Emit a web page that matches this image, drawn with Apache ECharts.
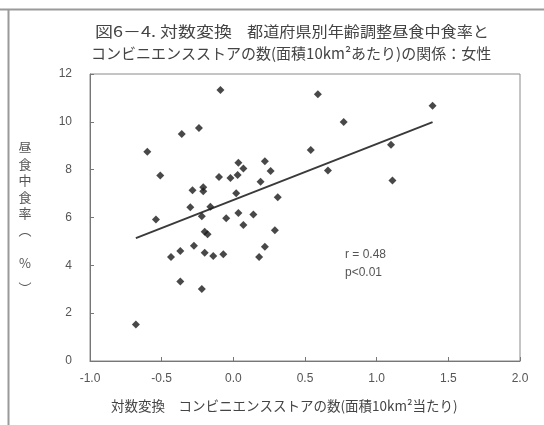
<!DOCTYPE html>
<html>
<head>
<meta charset="utf-8">
<script src="https://cdn.jsdelivr.net/npm/echarts@6/dist/echarts.min.js"></script>
<style>
  html, body { margin: 0; padding: 0; background: #fff; }
  #chart { width: 544px; height: 425px; }
</style>
</head>
<body>
<div id="chart"></div>
<script>
// Log-transformed convenience-store density (per 10 km²) per prefecture
const storeLog = [
  -0.09, -0.24, -0.36, -0.60, -0.51, -0.285, -0.21, -0.21, -0.10, -0.02,
  0.03, 0.035, 0.07, 0.22, 0.26, 0.19, 0.02, 0.31, -0.30, -0.16,
  -0.22, 0.035, 0.14, -0.05, -0.54, 0.59, 1.39, 0.77, 0.54, 1.10,
  0.66, 1.11, 0.07, 0.29, -0.20, -0.18, -0.275, -0.37, -0.435, -0.20,
  -0.14, -0.07, 0.22, 0.18, -0.37, -0.22, -0.68
];
// Age-adjusted rate of store-bought lunches, women (%)
const lunchRate = [
  11.33, 9.74, 9.49, 8.75, 7.76, 7.14, 7.26, 7.10, 7.69, 7.65,
  7.78, 8.29, 8.05, 8.35, 7.94, 7.49, 7.01, 6.85, 6.43, 6.45,
  6.05, 6.19, 6.13, 5.97, 5.92, 11.15, 10.67, 9.99, 8.82, 9.04,
  7.97, 7.55, 5.69, 5.47, 5.40, 5.30, 4.82, 4.60, 4.35, 4.53,
  4.39, 4.46, 4.78, 4.35, 3.32, 3.01, 1.53
];
// Regression line end points
const fitX = [-0.68, 1.39];
const fitY = [5.14, 9.99];
// Axis ticks
const xTicks = [-1.0, -0.5, 0.0, 0.5, 1.0, 1.5, 2.0];
const yTicks = [0, 2, 4, 6, 8, 10, 12];

const JP = '"Noto Sans CJK JP", "Noto Sans CJK SC", sans-serif';
const NUM = '"Liberation Sans", Arial, sans-serif';

const titleStyle = { fontFamily: JP, fontSize: 15, fill: '#444' };
const yNameStyle = { fontFamily: JP, fontSize: 13, fill: '#555', align: 'center' };

const chart = echarts.init(document.getElementById('chart'), null, { renderer: 'canvas' });

chart.setOption({
  animation: false,
  backgroundColor: '#ffffff',
  grid: { left: 90, right: 24, top: 74, bottom: 64, show: true, borderColor: '#8a8a8a', borderWidth: 1 },
  xAxis: {
    type: 'value',
    min: xTicks[0],
    max: xTicks[xTicks.length - 1],
    interval: 0.5,
    splitLine: { show: false },
    axisLine: { show: true, onZero: false, lineStyle: { color: '#777', width: 1 } },
    axisTick: { show: true, inside: true, length: 4, lineStyle: { color: '#777' } },
    axisLabel: {
      margin: 12,
      fontFamily: NUM, fontSize: 12, color: '#555',
      formatter: v => v.toFixed(1)
    }
  },
  yAxis: {
    type: 'value',
    min: yTicks[0],
    max: yTicks[yTicks.length - 1],
    interval: 2,
    splitLine: { show: false },
    axisLine: { show: true, onZero: false, lineStyle: { color: '#777', width: 1 } },
    axisTick: { show: true, inside: true, length: 4, lineStyle: { color: '#777' } },
    axisLabel: { margin: 18, fontFamily: NUM, fontSize: 12, color: '#555' }
  },
  graphic: [
    // page frame
    { type: 'line', shape: { x1: 0, y1: 9.5, x2: 544, y2: 9.5 }, style: { stroke: '#9a9a9a', lineWidth: 2 }, silent: true },
    { type: 'line', shape: { x1: 8.5, y1: 9, x2: 8.5, y2: 425 }, style: { stroke: '#9a9a9a', lineWidth: 2 }, silent: true },
    // two-line title
    { type: 'text', x: 95, y: 24, style: Object.assign({ text: '図6－4. 対数変換' }, titleStyle), scaleX: 1.2 },
    { type: 'text', x: 247, y: 24, style: Object.assign({ text: '都道府県別年齢調整昼食中食率と' }, titleStyle), scaleX: 1.075 },
    { type: 'text', x: 91, y: 46, style: Object.assign({ text: 'コンビニエンスストアの数(面積10km²あたり)の関係：女性' }, titleStyle), scaleX: 1.0 },
    // vertical y-axis title
    { type: 'text', x: 25, y: 139, style: Object.assign({ text: '昼\n食\n中\n食\n率', lineHeight: 16.5 }, yNameStyle) },
    { type: 'text', x: 25, y: 224, style: Object.assign({ text: '︵' }, yNameStyle) },
    { type: 'text', x: 25, y: 257, style: Object.assign({ text: '%' }, yNameStyle) },
    { type: 'text', x: 25, y: 282, style: Object.assign({ text: '︶' }, yNameStyle) },
    // x-axis title
    {
      type: 'text', left: 111, top: 399,
      style: {
        text: '対数変換　コンビニエンスストアの数(面積10km²当たり)',
        fontFamily: JP, fontSize: 13.5, fill: '#444'
      }
    },
    // correlation note
    {
      type: 'text', left: 345, top: 246,
      style: { text: 'r = 0.48\np<0.01', fontFamily: NUM, fontSize: 12, fill: '#555', lineHeight: 18 }
    }
  ],
  series: [
    {
      type: 'scatter',
      data: storeLog.map((x, i) => [x, lunchRate[i]]),
      symbol: 'diamond',
      symbolSize: 8,
      itemStyle: { color: '#1a1a1a' },
      z: 3
    },
    {
      type: 'line',
      data: fitX.map((x, i) => [x, fitY[i]]),
      showSymbol: false,
      lineStyle: { color: '#3a3a3a', width: 2 },
      z: 2
    }
  ]
});
</script>
</body>
</html>
